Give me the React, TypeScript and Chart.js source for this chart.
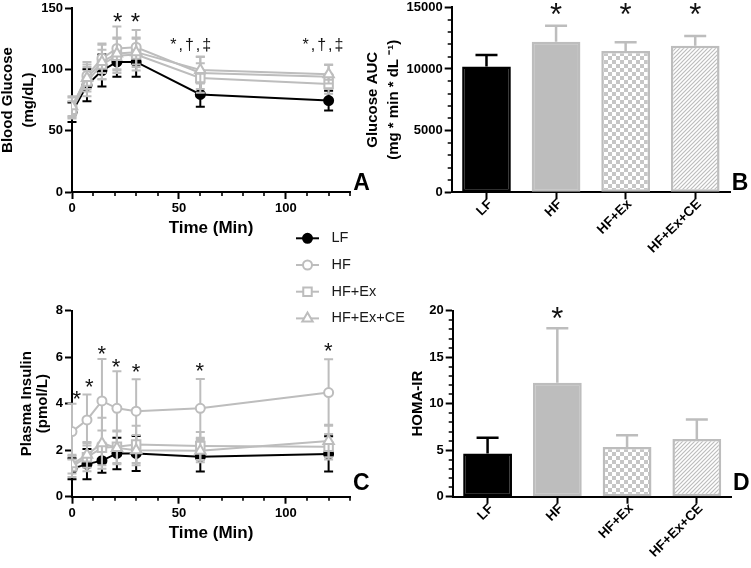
import React, { useEffect, useRef } from 'react';
import { Chart, registerables } from 'chart.js';

Chart.register(...registerables);

const FONT = "'Liberation Sans', Arial, Helvetica, sans-serif";
const BLACK = '#000000';
const GRAY = '#bdbdbd';
const W = 751;
const H = 568;

// ---------------- data ----------------
const groups = ['LF', 'HF', 'HF+Ex', 'HF+Ex+CE'];
const times = [0, 7, 14, 21, 30, 60, 120];
const timeTicks = [0, 50, 100];

const glucoseTicks = [0, 50, 100, 150];
const glucoseLF = [65, 87, 99, 106, 106, 79.5, 74.5];
const glucoseLFErr = [8, 13, 13, 12, 12, 10, 8];
const glucoseHF = [69, 95, 109, 117, 118, 97, 94];
const glucoseHFErr = [8, 11, 12, 18, 14, 13, 10];
const glucoseHFEx = [67, 90, 104, 111, 112, 93, 88];
const glucoseHFExErr = [7, 12, 12, 14, 13, 12, 8];
const glucoseHFExCE = [70, 93, 106, 113, 114, 99.5, 96];
const glucoseHFExCEErr = [8, 11, 14, 13, 12, 11, 7.5];
const glucoseStars = [
  { x: 21.4, y: 143.5, text: '*' },
  { x: 29.7, y: 143.5, text: '*' },
];
const glucoseDaggers = [
  { x: 56, y: 119.6, text: '*,†,‡' },
  { x: 117.8, y: 119.6, text: '*,†,‡' },
];

const insulinTicks = [0, 2, 4, 6, 8];
const insulinLF = [1.2, 1.4, 1.55, 1.86, 1.86, 1.72, 1.84];
const insulinLFErr = [0.45, 0.65, 0.52, 0.68, 0.75, 0.64, 0.76];
const insulinHF = [2.8, 3.3, 4.12, 3.8, 3.68, 3.8, 4.48];
const insulinHFErr = [1.2, 1.1, 1.8, 1.6, 1.37, 1.26, 1.43];
const insulinHFEx = [1.3, 1.7, 2.1, 2.15, 2.25, 2.18, 2.15];
const insulinHFExErr = [0.45, 0.6, 0.75, 0.7, 0.8, 0.6, 0.55];
const insulinHFExCE = [1.4, 1.8, 2.3, 2.1, 2.0, 1.98, 2.4];
const insulinHFExCEErr = [0.4, 0.55, 1.1, 0.7, 0.65, 0.5, 0.7];
const insulinStars = [
  { x: 2.2, y: 4.47, text: '*' },
  { x: 8.1, y: 4.95, text: '*' },
  { x: 13.9, y: 6.38, text: '*' },
  { x: 20.6, y: 5.81, text: '*' },
  { x: 30, y: 5.59, text: '*' },
  { x: 59.7, y: 5.66, text: '*' },
  { x: 119.8, y: 6.52, text: '*' },
];

const aucTicks = [0, 5000, 10000, 15000];
const aucMean = [10200, 12200, 11450, 11880];
const aucErr = [940, 1310, 710, 800];
const aucStars = [
  { x: 1, y: 15000, text: '*' },
  { x: 2, y: 15000, text: '*' },
  { x: 3, y: 15000, text: '*' },
];

const homaTicks = [0, 5, 10, 15, 20];
const homaMean = [4.65, 12.25, 5.35, 6.2];
const homaErr = [1.7, 5.85, 1.25, 2.1];
const homaStars = [{ x: 1, y: 20, text: '*' }];

// ---------------- styles ----------------
const seriesStyle = [
  { color: BLACK, pointStyle: 'circle', radius: 4.5, fill: BLACK, order: 4 },
  { color: GRAY, pointStyle: 'circle', radius: 4.5, fill: '#ffffff', order: 3 },
  { color: GRAY, pointStyle: 'rect', radius: 6, fill: '#ffffff', order: 2 },
  { color: GRAY, pointStyle: 'triangle', radius: 6, fill: '#ffffff', order: 1 },
];

const tickFont = { family: FONT, size: 13, weight: 'bold' as const };
const axisBorder = { display: true, color: BLACK, width: 2 };
const tickGrid = {
  display: true,
  drawOnChartArea: false,
  drawTicks: true,
  tickLength: 7,
  tickWidth: 2,
  tickColor: BLACK,
  color: BLACK,
};

function fixSize(size: number, horizontal: boolean) {
  return (s: any) => {
    if (horizontal) s.height = size;
    else s.width = size;
    s.paddingTop = 0;
    s.paddingBottom = 0;
    s.paddingLeft = 0;
    s.paddingRight = 0;
  };
}

function valueAxis(position: string, min: number, max: number, values: number[], size: number, title: any) {
  return {
    type: 'linear',
    position,
    min,
    max,
    afterBuildTicks: (s: any) => {
      s.ticks = values.map((v) => ({ value: v }));
    },
    afterFit: fixSize(size, position === 'bottom'),
    border: axisBorder,
    grid: tickGrid,
    ticks: {
      color: BLACK,
      padding: 2,
      font: tickFont,
      autoSkip: false,
      maxRotation: 0,
      callback: (v: any) => String(v),
    },
    title,
  };
}

function drawMarker(ctx: CanvasRenderingContext2D, style: string, x: number, y: number, r: number, fill: string, stroke: string, lw: number) {
  ctx.save();
  ctx.beginPath();
  if (style === 'circle') {
    ctx.arc(x, y, r, 0, Math.PI * 2);
  } else if (style === 'rect') {
    const s = Math.SQRT1_2 * r;
    ctx.rect(x - s, y - s, 2 * s, 2 * s);
  } else if (style === 'triangle') {
    let rad = 0;
    ctx.moveTo(x + Math.sin(rad) * r, y - Math.cos(rad) * r);
    rad += (2 * Math.PI) / 3;
    ctx.lineTo(x + Math.sin(rad) * r, y - Math.cos(rad) * r);
    rad += (2 * Math.PI) / 3;
    ctx.lineTo(x + Math.sin(rad) * r, y - Math.cos(rad) * r);
    ctx.closePath();
  }
  ctx.fillStyle = fill;
  ctx.fill();
  ctx.lineWidth = lw;
  ctx.strokeStyle = stroke;
  ctx.stroke();
  ctx.restore();
}

// error bars: 'both' for line panels, 'up' for bar panels
function errorBars(errors: number[][], mode: 'both' | 'up', cap: number, lw: number) {
  const draw = (chart: any, index: number) => {
    const errs = errors[index];
    if (!errs) return;
    const meta = chart.getDatasetMeta(index);
    const ds = chart.data.datasets[index];
    const ys = chart.scales.y;
    const ctx = chart.ctx as CanvasRenderingContext2D;
    ctx.save();
    ctx.lineWidth = lw;
    meta.data.forEach((el: any, j: number) => {
      const raw = ds.data[j];
      const v = typeof raw === 'number' ? raw : raw.y;
      const e = errs[j];
      const color = Array.isArray(ds.borderColor) ? ds.borderColor[j] : ds.borderColor;
      ctx.strokeStyle = color;
      const x = el.x;
      const yTop = ys.getPixelForValue(v + e);
      const yBot = mode === 'both' ? ys.getPixelForValue(v - e) : ys.getPixelForValue(v);
      ctx.beginPath();
      ctx.moveTo(x, yBot);
      ctx.lineTo(x, yTop);
      ctx.moveTo(x - cap / 2, yTop);
      ctx.lineTo(x + cap / 2, yTop);
      if (mode === 'both') {
        ctx.moveTo(x - cap / 2, yBot);
        ctx.lineTo(x + cap / 2, yBot);
      }
      ctx.stroke();
    });
    ctx.restore();
  };
  return {
    id: 'errorBars',
    beforeDatasetDraw(chart: any, args: any) {
      if (mode === 'both') draw(chart, args.index);
    },
    afterDatasetDraw(chart: any, args: any) {
      if (mode === 'up') draw(chart, args.index);
    },
  };
}

function marks(list: { x: number; y: number; text: string }[], size: number) {
  return {
    id: 'marks' + size,
    afterDatasetsDraw(chart: any) {
      const ctx = chart.ctx as CanvasRenderingContext2D;
      ctx.save();
      ctx.fillStyle = '#111111';
      ctx.textAlign = 'center';
      ctx.textBaseline = 'alphabetic';
      ctx.font = `${size}px ${FONT}`;
      list.forEach((m) => {
        const px = chart.scales.x.getPixelForValue(m.x);
        const py = chart.scales.y.getPixelForValue(m.y);
        const single = m.text === '*';
        (ctx as any).letterSpacing = single ? '0px' : '2px';
        ctx.fillText(m.text, px, py + (single ? 0.58 : 0.3) * size);
      });
      (ctx as any).letterSpacing = '0px';
      ctx.restore();
    },
  };
}

function minorTicks(axis: 'x' | 'y', step: number, len: number) {
  return {
    id: 'minorTicks',
    afterDraw(chart: any) {
      const s = chart.scales[axis];
      const area = chart.chartArea;
      const major = s.ticks.map((t: any) => t.value);
      const ctx = chart.ctx as CanvasRenderingContext2D;
      ctx.save();
      ctx.strokeStyle = BLACK;
      ctx.lineWidth = 1.6;
      ctx.beginPath();
      for (let v = s.min; v <= s.max + 1e-9; v += step) {
        if (major.some((m: number) => Math.abs(m - v) < 1e-6)) continue;
        const p = Math.round(s.getPixelForValue(v));
        if (axis === 'x') {
          ctx.moveTo(p, area.bottom);
          ctx.lineTo(p, area.bottom + len);
        } else {
          ctx.moveTo(area.left, p);
          ctx.lineTo(area.left - len, p);
        }
      }
      ctx.stroke();
      ctx.restore();
    },
  };
}

function panelLetter(text: string, dx: number, dy: number) {
  return {
    id: 'panelLetter',
    afterDraw(chart: any) {
      const a = chart.chartArea;
      const ctx = chart.ctx as CanvasRenderingContext2D;
      ctx.save();
      ctx.fillStyle = BLACK;
      ctx.font = `bold 23px ${FONT}`;
      ctx.textAlign = 'left';
      ctx.textBaseline = 'alphabetic';
      ctx.fillText(text, a.right + dx, a.bottom + dy);
      ctx.restore();
    },
  };
}

function groupLegend(rows: number[], x0: number, x1: number, textX: number) {
  return {
    id: 'groupLegend',
    afterDraw(chart: any) {
      const ctx = chart.ctx as CanvasRenderingContext2D;
      chart.data.datasets.forEach((ds: any, i: number) => {
        const y = rows[i];
        ctx.save();
        ctx.strokeStyle = ds.borderColor;
        ctx.lineWidth = 2;
        ctx.beginPath();
        ctx.moveTo(x0, y);
        ctx.lineTo(x1, y);
        ctx.stroke();
        drawMarker(ctx, ds.pointStyle, (x0 + x1) / 2, y, ds.pointRadius, ds.pointBackgroundColor, ds.pointBorderColor, 2);
        ctx.fillStyle = '#1a1a1a';
        ctx.font = `14.5px ${FONT}`;
        ctx.textAlign = 'left';
        ctx.textBaseline = 'middle';
        ctx.fillText(ds.label, textX, y);
        ctx.restore();
      });
    },
  };
}

function lineDatasets(series: number[][]) {
  return series.map((vals, i) => ({
    label: groups[i],
    data: vals.map((v, j) => ({ x: times[j], y: v })),
    borderColor: seriesStyle[i].color,
    borderWidth: 2,
    pointStyle: seriesStyle[i].pointStyle,
    pointRadius: seriesStyle[i].radius,
    pointBackgroundColor: seriesStyle[i].fill,
    pointBorderColor: seriesStyle[i].color,
    pointBorderWidth: 2,
    fill: false,
    tension: 0,
    order: seriesStyle[i].order,
  }));
}

const baseOptions = {
  responsive: false,
  maintainAspectRatio: false,
  animation: false as const,
  devicePixelRatio: 1,
  events: [] as any[],
};

function timeAxis(size: number, titlePadBottom: number) {
  return valueAxis('bottom', 0, 130, timeTicks, size, {
    display: true,
    text: 'Time (Min)',
    color: BLACK,
    font: { family: FONT, size: 17, weight: 'bold', lineHeight: 1.2 },
    padding: { top: 0, bottom: titlePadBottom },
  });
}

function configGlucose(): any {
  return {
    type: 'line',
    data: {
      datasets: lineDatasets([glucoseLF, glucoseHF, glucoseHFEx, glucoseHFExCE]),
    },
    options: {
      ...baseOptions,
      layout: { padding: { left: 0, top: 7, right: W - 350, bottom: H - 192 - 48 } },
      plugins: { legend: { display: false }, tooltip: { enabled: false } },
      scales: {
        x: timeAxis(48, 1.4),
        y: valueAxis('left', 0, 150, glucoseTicks, 72, {
          display: true,
          text: ['Blood Glucose', '(mg/dL)'],
          color: BLACK,
          font: { family: FONT, size: 15, weight: 'bold', lineHeight: 1.4 },
          padding: { top: -2.4, bottom: 0 },
        }),
      },
    },
    plugins: [
      errorBars([glucoseLFErr, glucoseHFErr, glucoseHFExErr, glucoseHFExCEErr], 'both', 9, 2),
      minorTicks('x', 10, 4),
      marks(glucoseStars, 24),
      marks(glucoseDaggers, 16),
      panelLetter('A', 3.3, -2),
      groupLegend([238.3, 265, 291.7, 318.4], 296, 319, 331.5),
    ],
  };
}

function configInsulin(): any {
  return {
    type: 'line',
    data: {
      datasets: lineDatasets([insulinLF, insulinHF, insulinHFEx, insulinHFExCE]),
    },
    options: {
      ...baseOptions,
      layout: { padding: { left: 0, top: 310.7, right: W - 350, bottom: H - 496.7 - 48 } },
      plugins: { legend: { display: false }, tooltip: { enabled: false } },
      scales: {
        x: timeAxis(48, 1.5),
        y: valueAxis('left', 0, 8, insulinTicks, 72, {
          display: true,
          text: ['Plasma Insulin', '(pmol/L)'],
          color: BLACK,
          font: { family: FONT, size: 15, weight: 'bold', lineHeight: 1.1 },
          padding: { top: 18.25, bottom: 0 },
        }),
      },
    },
    plugins: [
      errorBars([insulinLFErr, insulinHFErr, insulinHFExErr, insulinHFExCEErr], 'both', 9, 2),
      minorTicks('x', 10, 4),
      marks(insulinStars, 22),
      panelLetter('C', 3, -6.7),
    ],
  };
}

function barConfig(
  mean: number[],
  err: number[],
  ticks: number[],
  max: number,
  minorStep: number,
  title: any,
  pad: any,
  yWidth: number,
  xHeight: number,
  stars: any[],
  letter: string,
  letterDx: number,
  letterDy: number,
  fills: any[],
): any {
  return {
    type: 'bar',
    data: {
      labels: groups,
      datasets: [
        {
          data: mean,
          backgroundColor: fills,
          borderColor: [BLACK, GRAY, GRAY, GRAY],
          borderWidth: 2.5,
          borderSkipped: false,
          barPercentage: 0.7,
          categoryPercentage: 1,
        },
      ],
    },
    options: {
      ...baseOptions,
      layout: { padding: pad },
      plugins: { legend: { display: false }, tooltip: { enabled: false } },
      scales: {
        x: {
          type: 'category',
          position: 'bottom',
          offset: true,
          afterFit: fixSize(xHeight, true),
          border: axisBorder,
          grid: { ...tickGrid, offset: false },
          ticks: {
            color: BLACK,
            padding: -3,
            labelOffset: 4,
            font: { family: FONT, size: 13.5, weight: 'bold' },
            autoSkip: false,
            minRotation: 45,
            maxRotation: 45,
          },
        },
        y: valueAxis('left', 0, max, ticks, yWidth, title),
      },
    },
    plugins: [
      errorBars([err], 'up', 22, 2.5),
      minorTicks('y', minorStep, 4),
      marks(stars, 31),
      panelLetter(letter, letterDx, letterDy),
    ],
  };
}

function makeChecker(): any {
  const c = document.createElement('canvas');
  c.width = 8;
  c.height = 8;
  const g = c.getContext('2d')!;
  g.fillStyle = '#ffffff';
  g.fillRect(0, 0, 8, 8);
  g.fillStyle = '#c6c6c6';
  g.fillRect(0, 0, 4, 4);
  g.fillRect(4, 4, 4, 4);
  return g.createPattern(c, 'repeat');
}

function makeHatch(): any {
  const s = 4;
  const c = document.createElement('canvas');
  c.width = s;
  c.height = s;
  const g = c.getContext('2d')!;
  g.fillStyle = '#ffffff';
  g.fillRect(0, 0, s, s);
  g.strokeStyle = '#bdbdbd';
  g.lineWidth = 1.2;
  g.beginPath();
  g.moveTo(0, s);
  g.lineTo(s, 0);
  g.moveTo(-1, 1);
  g.lineTo(1, -1);
  g.moveTo(s - 1, s + 1);
  g.lineTo(s + 1, s - 1);
  g.stroke();
  return g.createPattern(c, 'repeat');
}

export default function App() {
  const refA = useRef<HTMLCanvasElement>(null);
  const refB = useRef<HTMLCanvasElement>(null);
  const refC = useRef<HTMLCanvasElement>(null);
  const refD = useRef<HTMLCanvasElement>(null);

  useEffect(() => {
    const checker = makeChecker();
    const hatch = makeHatch();
    const fills = [BLACK, GRAY, checker, hatch];
    const charts = [
      new Chart(refA.current!, configGlucose()),
      new Chart(
        refB.current!,
        barConfig(
          aucMean,
          aucErr,
          aucTicks,
          15000,
          1000,
          {
            display: true,
            text: ['Glucose AUC', '(mg * min * dL \u207B\u00B9)'],
            color: BLACK,
            font: { family: FONT, size: 15, weight: 'bold', lineHeight: 1.433 },
            padding: { top: 1.75, bottom: 0 },
          },
          { left: 360, top: 7.3, right: W - 730, bottom: H - 192.3 - 80 },
          91.7,
          80,
          aucStars,
          'B',
          1.7,
          -2.3,
          fills,
        ),
      ),
      new Chart(refC.current!, configInsulin()),
      new Chart(
        refD.current!,
        barConfig(
          homaMean,
          homaErr,
          homaTicks,
          20,
          1,
          {
            display: true,
            text: 'HOMA-IR',
            color: BLACK,
            font: { family: FONT, size: 15, weight: 'bold', lineHeight: 1.2 },
            padding: { top: 9, bottom: 0 },
          },
          { left: 400, top: 310.7, right: W - 731.7, bottom: H - 496.7 - 60 },
          52.7,
          60,
          homaStars,
          'D',
          1.3,
          -6.7,
          fills,
        ),
      ),
    ];
    return () => charts.forEach((c) => c.destroy());
  }, []);

  const style: React.CSSProperties = { position: 'absolute', left: 0, top: 0, width: W, height: H };
  return (
    <div style={{ position: 'absolute', left: 0, top: 0, width: W, height: H, background: '#ffffff' }}>
      <canvas ref={refA} width={W} height={H} style={style} />
      <canvas ref={refB} width={W} height={H} style={style} />
      <canvas ref={refC} width={W} height={H} style={style} />
      <canvas ref={refD} width={W} height={H} style={style} />
    </div>
  );
}
